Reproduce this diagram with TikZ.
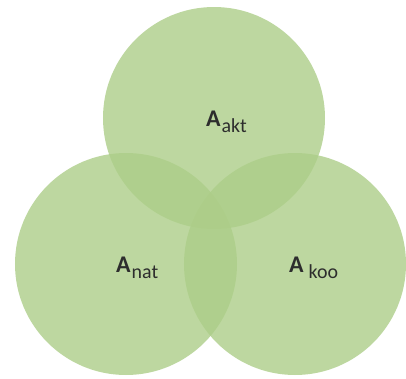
\documentclass[tikz,border=0pt]{standalone}
\usepackage{fontspec}
\setmainfont{Carlito}
\definecolor{setgreen}{RGB}{172,205,136}
\definecolor{labelgray}{RGB}{45,45,45}
\newcommand{\bigA}{\fontsize{24}{28}\selectfont\bfseries A}
\newcommand{\subtxt}[1]{\raisebox{-6bp}{\fontsize{20}{24}\selectfont\mdseries #1}}
\begin{document}
\begin{tikzpicture}[x=1bp,y=-1bp,
  setcircle/.style={circle, fill=setgreen, fill opacity=0.8, draw=none, minimum size=222bp, inner sep=0pt},
  setlabel/.style={text=labelgray, inner sep=0pt, anchor=base west},
]
\useasboundingbox (0,0) rectangle (406,379);
\node[setcircle] (akt) at (214,118) {};
\node[setcircle] (nat) at (126,264) {};
\node[setcircle] (koo) at (295,264) {};
\node[setlabel] (lakt) at (206,126) {\bigA\hspace{1bp}\subtxt{akt}};
\node[setlabel] (lnat) at (116,272) {\bigA\hspace{1bp}\subtxt{nat}};
\node[setlabel] (lkoo) at (289,272) {\bigA\hspace{5bp}\subtxt{koo}};
\end{tikzpicture}
\end{document}
